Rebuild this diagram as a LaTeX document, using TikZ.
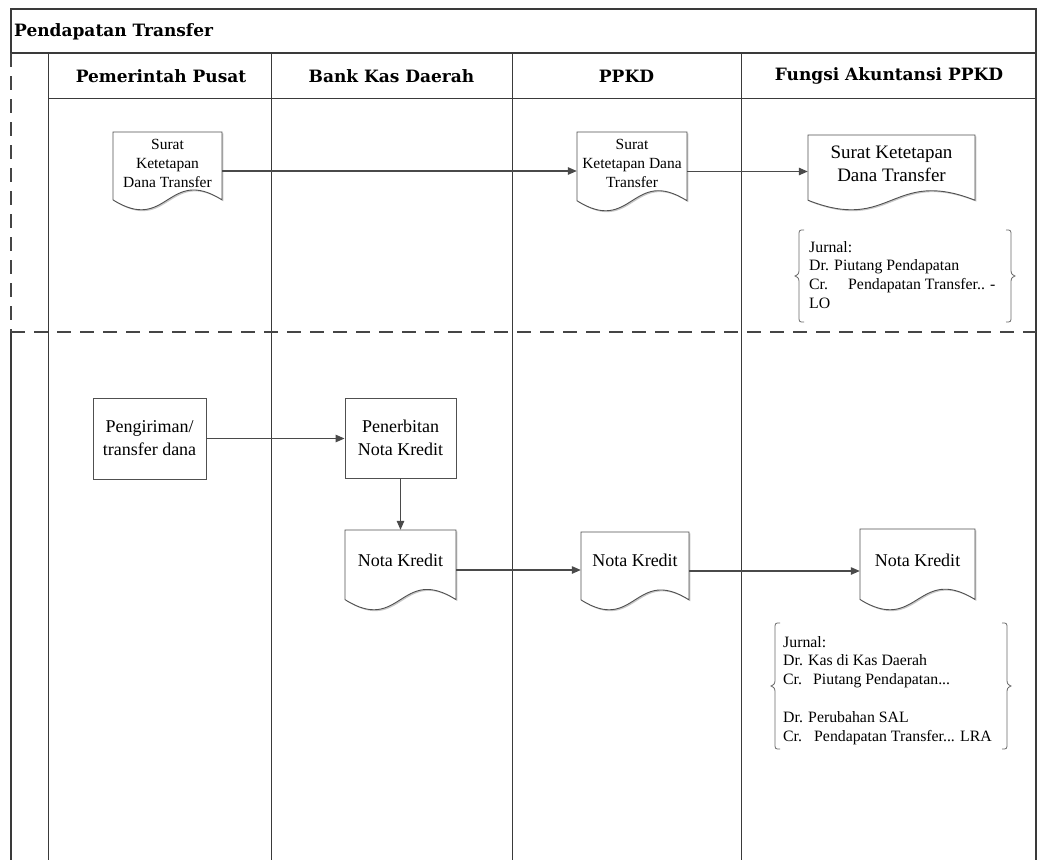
\documentclass[tikz,border=0pt]{standalone}
\usepackage{fontspec}
\setmainfont{Liberation Serif}
\newfontfamily\headfont{DejaVu Serif}
\usetikzlibrary{arrows.meta,shadows}

\definecolor{frameclr}{HTML}{3A3A3A}
\definecolor{dashclr}{HTML}{454545}
\definecolor{flowclr}{HTML}{4A4A4A}
\definecolor{boxclr}{HTML}{505050}
\definecolor{braceclr}{HTML}{6A6A6A}

\tikzset{
  x=1pt, y=-1pt,
  frame/.style={draw=frameclr, line width=1.3pt},
  lane/.style={draw=frameclr, line width=1pt},
  phase/.style={draw=dashclr, line width=2pt, dash pattern=on 14pt off 9pt},
  flow/.style={draw=flowclr, line width=1.2pt, -{Triangle[length=9pt,width=7.5pt]}},
  softshadow/.style={drop shadow={shadow xshift=1.4pt, shadow yshift=-1.4pt, opacity=0.22, fill=black}},
  procbox/.style={draw=boxclr, line width=0.9pt, fill=white, softshadow, inner sep=0pt,
    align=center, font=\fontsize{18}{23}\selectfont},
  docshape/.style={draw=boxclr, line width=0.9pt, fill=white, softshadow},
  docarea/.style={draw=none, inner sep=0pt},
  doctext/.style={inner sep=0pt, align=center},
  bracel/.style={draw=braceclr, line width=0.8pt},
  journal/.style={inner sep=0pt, align=left, font=\fontsize{15.8}{18.8}\selectfont},
  titletext/.style={inner sep=0pt, font=\headfont\bfseries\fontsize{17}{20}\selectfont},
}

% document symbol: name, centre x, top y, width, height (down to the wave), text centre y, font, text
\newcommand\docnode[8]{%
  \draw[docshape] ({#2-#4/2},#3) -- ({#2+#4/2},#3) -- ({#2+#4/2},{#3+0.87*#5})
    .. controls (#2,{#3+0.43*#5}) and (#2,{#3+1.31*#5}) .. ({#2-#4/2},{#3+0.87*#5}) -- cycle;
  \node[docarea, minimum width=#4pt, minimum height=#5pt] (#1) at (#2,{#3+#5/2}) {};
  \node[doctext, font=#7] (#1-t) at (#2,#6) {#8};
}

% pair of curly braces around a journal entry: left x, right x, top y, bottom y
\newcommand\jbraces[4]{%
  \pgfmathsetmacro\bmid{(#3+#4)/2}
  \draw[bracel] ({#1+5},#3) .. controls (#1,#3) .. (#1,{#3+6}) -- (#1,{\bmid-9})
    .. controls (#1,{\bmid-2}) .. ({#1-4},\bmid) .. controls (#1,{\bmid+2}) .. (#1,{\bmid+9})
    -- (#1,{#4-6}) .. controls (#1,#4) .. ({#1+5},#4);
  \draw[bracel] ({#2-5},#3) .. controls (#2,#3) .. (#2,{#3+6}) -- (#2,{\bmid-9})
    .. controls (#2,{\bmid-2}) .. ({#2+4},\bmid) .. controls (#2,{\bmid+2}) .. (#2,{\bmid+9})
    -- (#2,{#4-6}) .. controls (#2,#4) .. ({#2-5},#4);
}

\begin{document}
\begin{tikzpicture}
\useasboundingbox (0,0) rectangle (1039,860);
\fill[white] (0,0) rectangle (1039,860);

% swimlane frame
\draw[frame] (11,53) -- (11,9) -- (1036,9) -- (1036,860);
\draw[frame] (11,53) -- (1036,53);
\draw[frame] (11,332) -- (11,860);
\draw[lane] (48,53) -- (48,860);
\draw[lane] (271,53) -- (271,860);
\draw[lane] (512,53) -- (512,860);
\draw[lane] (741,53) -- (741,860);
\draw[lane] (48,98) -- (1036,98);

% phase separators
\draw[phase] (11,53) -- (11,332);
\draw[phase] (11,332) -- (1036,332);

% titles
\node[titletext, anchor=west] (title) at (14,32) {Pendapatan Transfer};
\node[titletext] (h1) at (161,76) {Pemerintah Pusat};
\node[titletext] (h2) at (391.5,76) {Bank Kas Daerah};
\node[titletext] (h3) at (626.5,76) {PPKD};
\node[titletext] (h4) at (889,76) {Fungsi Akuntansi PPKD};

% first phase: transfer decree
\docnode{sk1}{167.5}{132}{109}{78}{163}{\fontsize{15.5}{19}\selectfont}{Surat\\Ketetapan\\Dana Transfer}
\docnode{sk2}{632}{132}{110}{79}{163}{\fontsize{15.5}{19}\selectfont}{Surat\\Ketetapan Dana\\Transfer}
\docnode{sk3}{891.5}{135}{167}{75}{163.5}{\fontsize{19}{23}\selectfont}{Surat Ketetapan\\Dana Transfer}

\draw[flow] (sk1.east) -- (sk1.east -| sk2.west);
\draw[flow] (sk2.east) -- (sk2.east -| sk3.west);

\jbraces{799}{1011}{230}{322}
\node[journal, anchor=north west] (j1) at (809,241) {Jurnal:\\Dr. Piutang Pendapatan\\\makebox[39pt][l]{Cr.}Pendapatan Transfer.. -\\LO};

% second phase: transfer of funds
\node[procbox, minimum width=113pt, minimum height=81pt] (kirim) at (149.5,438.5) {Pengiriman/\\transfer dana};
\node[procbox, minimum width=111pt, minimum height=80pt] (terbit) at (400.5,438) {Penerbitan\\Nota Kredit};

\docnode{nk1}{400.5}{530}{111}{80}{560}{\fontsize{18}{23}\selectfont}{Nota Kredit}
\docnode{nk2}{635}{532}{108}{78}{560}{\fontsize{18}{23}\selectfont}{Nota Kredit}
\docnode{nk3}{917.5}{529}{115}{81}{560}{\fontsize{18}{23}\selectfont}{Nota Kredit}

\draw[flow] (kirim.east) -- (kirim.east -| terbit.west);
\draw[flow] (terbit.south) -- (nk1.north);
\draw[flow] (nk1.east) -- (nk1.east -| nk2.west);
\draw[flow] (nk2.east) -- (nk2.east -| nk3.west);

\jbraces{775}{1007}{623}{749}
\node[journal, anchor=north west] (j2) at (783,636) {Jurnal:\\Dr. Kas di Kas Daerah\\\makebox[30pt][l]{Cr.}Piutang Pendapatan...\\[18.8pt]Dr. Perubahan SAL\\\makebox[31pt][l]{Cr.}Pendapatan Transfer... LRA};
\end{tikzpicture}
\end{document}
